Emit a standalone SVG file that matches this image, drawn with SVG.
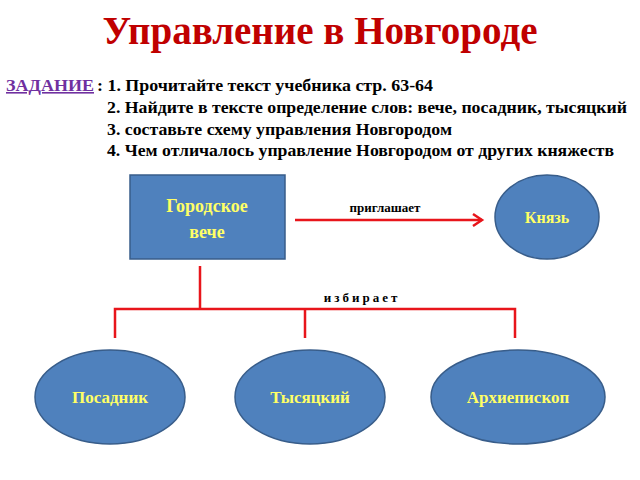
<svg xmlns="http://www.w3.org/2000/svg" width="640" height="480" viewBox="0 0 640 480">
<style>
.t{font-family:"Liberation Serif",serif;font-weight:bold}
.node{fill:#4f81bd;stroke:#385d8a;stroke-width:1.5}
.lbl{fill:#ffff66;text-anchor:middle}
.ln{stroke:#e8151b;stroke-width:2.5;fill:none}
</style>
<rect width="640" height="480" fill="#fff"/>
<text class="t" x="320" y="44" font-size="39" fill="#c00000" text-anchor="middle">Управление в Новгороде</text>
<text class="t" x="6" y="91" font-size="16" fill="#7030a0" text-decoration="underline" textLength="88" lengthAdjust="spacingAndGlyphs">ЗАДАНИЕ </text>
<g class="t" font-size="16" fill="#000">
<text x="97" y="91" textLength="336" lengthAdjust="spacingAndGlyphs">: 1. Прочитайте текст учебника стр. 63-64</text>
<text x="107" y="113" textLength="520" lengthAdjust="spacingAndGlyphs">2. Найдите в тексте определение слов: вече, посадник, тысяцкий</text>
<text x="107" y="135" textLength="345" lengthAdjust="spacingAndGlyphs">3. составьте схему управления Новгородом</text>
<text x="107" y="156" textLength="507" lengthAdjust="spacingAndGlyphs">4. Чем отличалось управление Новгородом от других княжеств</text>
</g>
<g id="connectors">
<path class="ln" d="M295 220H482"/>
<path class="ln" d="M473 214L482 220L473 226"/>
<path class="ln" d="M200 266V309M115 338V309H515V338M305 309V338"/>
</g>
<text class="t" x="385" y="212" font-size="13" text-anchor="middle">приглашает</text>
<text class="t" x="362" y="302" font-size="13" text-anchor="middle" letter-spacing="3">избирает</text>
<g id="veche"><rect class="node" x="130" y="175" width="155" height="84"/>
<text class="t lbl" x="207" y="212" font-size="18">Городское</text><text class="t lbl" x="207" y="238" font-size="18">вече</text></g>
<g id="knyaz"><ellipse class="node" cx="547" cy="217" rx="52" ry="42"/><text class="t lbl" x="547" y="223" font-size="16">Князь</text></g>
<g id="posadnik"><ellipse class="node" cx="110" cy="397" rx="75" ry="47"/><text class="t lbl" x="110" y="403" font-size="17">Посадник</text></g>
<g id="tys"><ellipse class="node" cx="310" cy="397" rx="75" ry="47"/><text class="t lbl" x="310" y="403" font-size="17">Тысяцкий</text></g>
<g id="arch"><ellipse class="node" cx="518" cy="397" rx="87" ry="47"/><text class="t lbl" x="518" y="403" font-size="17">Архиепископ</text></g>
</svg>
